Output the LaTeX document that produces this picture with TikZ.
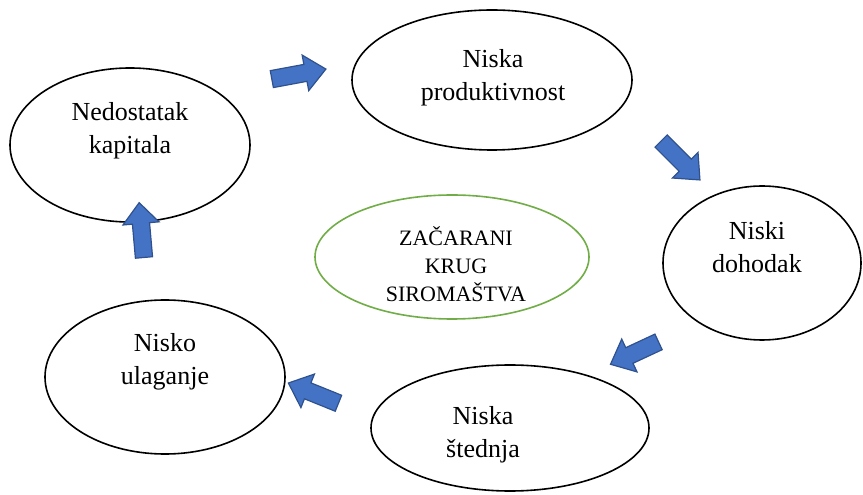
\documentclass[tikz,border=0pt]{standalone}
\usepackage{fontspec}
\setmainfont{Liberation Serif}
\usetikzlibrary{shapes.geometric,shapes.arrows}
\definecolor{arrowfill}{HTML}{4472C4}
\definecolor{arrowline}{HTML}{2F528F}
\definecolor{circlegreen}{HTML}{70AD47}
\tikzset{
  cycleoval/.style={ellipse,draw=black,line width=1.6bp,inner sep=0pt},
  centeroval/.style={ellipse,draw=circlegreen,line width=1.6bp,inner sep=0pt},
  cyclelabel/.style={align=center,font=\fontsize{26bp}{33bp}\selectfont},
  centerlabel/.style={align=center,font=\fontsize{22bp}{28bp}\selectfont},
  blockarrow/.style={single arrow,draw=arrowline,fill=arrowfill,line width=1.2bp,
    inner xsep=0pt,inner ysep=8bp,minimum height=55bp,
    single arrow head extend=9.5bp,single arrow tip angle=82,single arrow head indent=0pt},
}
\begin{document}
\begin{tikzpicture}[line join=miter]
\useasboundingbox (0bp,0bp) rectangle (863bp,495bp);
%%
\node (oval_kapital) at (130bp,350bp) [cycleoval,minimum width=240bp,minimum height=154bp] {};
  \node (oval_produkt) at (492bp,415bp) [cycleoval,minimum width=280bp,minimum height=140bp] {};
  \node (oval_dohodak) at (762bp,232bp) [cycleoval,minimum width=198bp,minimum height=154bp] {};
  \node (oval_stednja) at (510bp,67bp) [cycleoval,minimum width=278bp,minimum height=126bp] {};
  \node (oval_ulaganje) at (165bp,118bp) [cycleoval,minimum width=240bp,minimum height=154bp] {};
  \node (oval_krug) at (452bp,238bp) [centeroval,minimum width=274bp,minimum height=124bp] {};
%%
\node (text_kapital) at (130bp,364bp) [cyclelabel] {Nedostatak\\kapitala};
  \node (text_produkt) at (493bp,417bp) [cyclelabel] {Niska\\produktivnost};
  \node (text_dohodak) at (757bp,248bp) [cyclelabel] {Niski\\dohodak};
  \node (text_stednja) at (483bp,60bp) [cyclelabel] {Niska\\štednja};
  \node (text_ulaganje) at (165bp,133bp) [cyclelabel] {Nisko\\ulaganje};
  \node (text_krug) at (456bp,231bp) [centerlabel] {ZAČARANI\\KRUG\\SIROMAŠTVA};
%%
\node (arrow_1) at (294bp,420bp) [blockarrow,rotate=10.5] {};
  \node (arrow_2) at (677bp,338bp) [blockarrow,rotate=-45] {};
  \node (arrow_3) at (639bp,144bp) [blockarrow,rotate=-155,minimum height=53bp] {};
  \node (arrow_4) at (318bp,100bp) [blockarrow,rotate=158,minimum height=54bp] {};
  \node (arrow_5) at (142bp,260bp) [blockarrow,rotate=95] {};
%
\end{tikzpicture}
\end{document}
